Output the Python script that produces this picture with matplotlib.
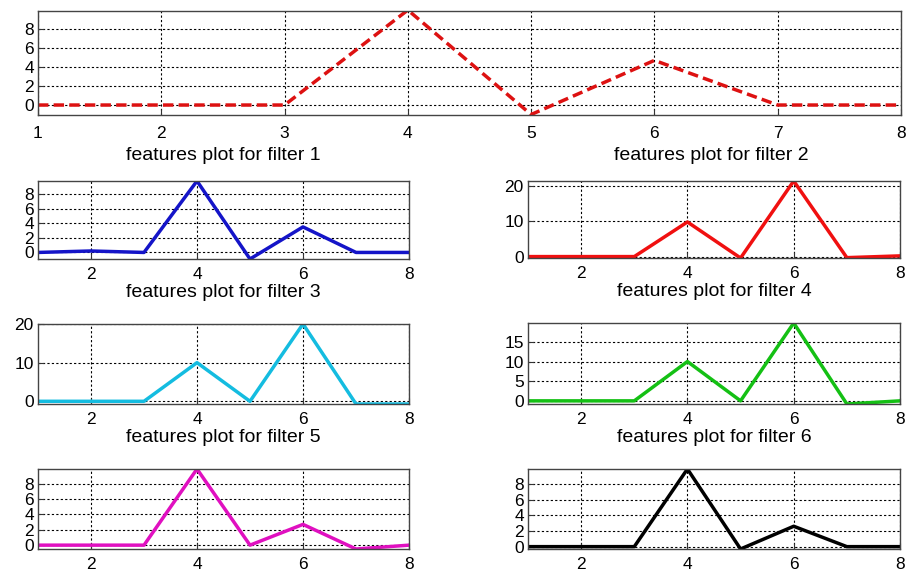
import matplotlib.pyplot as plt
import numpy as np

plt.rcParams['font.family'] = ['Liberation Sans', 'DejaVu Sans']

# feature index along the x axis
x = np.arange(1, 9)

# feature values for each filter
filter_1 = [0, 0, 0, 10, -1.0, 4.7, 0, 0]
filter_3 = [0, 0.2, 0, 9.8, -0.9, 3.5, 0, 0]
filter_4 = [0, 0, 0, 9.8, -0.4, 21.4, -0.3, 0.2]
filter_5 = [0, 0, 0, 10, 0, 20, -0.7, -0.7]
filter_6 = [0, 0, 0, 10, 0, 19.8, -0.8, 0]
filter_7 = [0, 0, 0, 9.9, 0, 2.7, -0.5, 0]
filter_8 = [0, 0, 0, 9.9, -0.3, 2.6, 0, 0]

W, H = 907.0, 577.0
TICK_FS = 12.5
LABEL_FS = 14


def make_ax(fig, l, t, r, b):
    # axes placed by pixel box (left, top, right, bottom)
    ax = fig.add_axes([l / W, 1 - b / H, (r - l) / W, (b - t) / H])
    ax.grid(True, color='black', linestyle=(0, (2, 2)), linewidth=0.8)
    ax.tick_params(direction='in', labelsize=TICK_FS, length=4, color='#333333')
    ax.tick_params(axis='x', pad=6)
    ax.tick_params(axis='y', pad=3)
    for s in ax.spines.values():
        s.set_color('#444444')
        s.set_linewidth(1.0)
    ax.set_xlim(1, 8)
    return ax


def setup(ax, vals, yticks, label=None):
    ax.set_ylim(min(vals), max(vals))
    ax.set_yticks(yticks)
    ax.set_xticks([2, 4, 6, 8])
    if label:
        ax.set_xlabel(label, fontsize=LABEL_FS, labelpad=1)


fig = plt.figure(figsize=(9.07, 5.77), dpi=100)

# wide top plot
ax = make_ax(fig, 38, 11, 901, 115)
ax.plot(x, filter_1, color='#dd1111', linestyle=(0, (3, 1.5)), linewidth=2.5)
ax.set_ylim(-1.05, 9.9)
ax.set_yticks([0, 2, 4, 6, 8])
ax.set_xticks(x)
ax.tick_params(axis='x', pad=8)
fig.text(223.5 / W, 1 - 155 / H, 'features plot for filter 1', fontsize=LABEL_FS,
         ha='center', va='center')
fig.text(711 / W, 1 - 155 / H, 'features plot for filter 2', fontsize=LABEL_FS,
         ha='center', va='center')

ax = make_ax(fig, 38, 181, 409, 259)
ax.plot(x, filter_3, color='#1414c8', linewidth=2.5)
setup(ax, filter_3, [0, 2, 4, 6, 8], 'features plot for filter 3')

ax = make_ax(fig, 528, 181, 900, 258)
ax.plot(x, filter_4, color='#f01010', linewidth=2.5)
setup(ax, filter_4, [0, 10, 20], 'features plot for filter 4')

ax = make_ax(fig, 38, 324, 409, 404)
ax.plot(x, filter_5, color='#14bce0', linewidth=2.5)
setup(ax, filter_5, [0, 10, 20], 'features plot for filter 5')

ax = make_ax(fig, 528, 323, 900, 404)
ax.plot(x, filter_6, color='#14c014', linewidth=2.5)
setup(ax, filter_6, [0, 5, 10, 15], 'features plot for filter 6')

ax = make_ax(fig, 38, 469, 409, 549)
ax.plot(x, filter_7, color='#e010c0', linewidth=2.5)
setup(ax, filter_7, [0, 2, 4, 6, 8])

ax = make_ax(fig, 528, 469, 900, 549)
ax.plot(x, filter_8, color='black', linewidth=2.5)
setup(ax, filter_8, [0, 2, 4, 6, 8])

plt.savefig('out.png', dpi=100)
